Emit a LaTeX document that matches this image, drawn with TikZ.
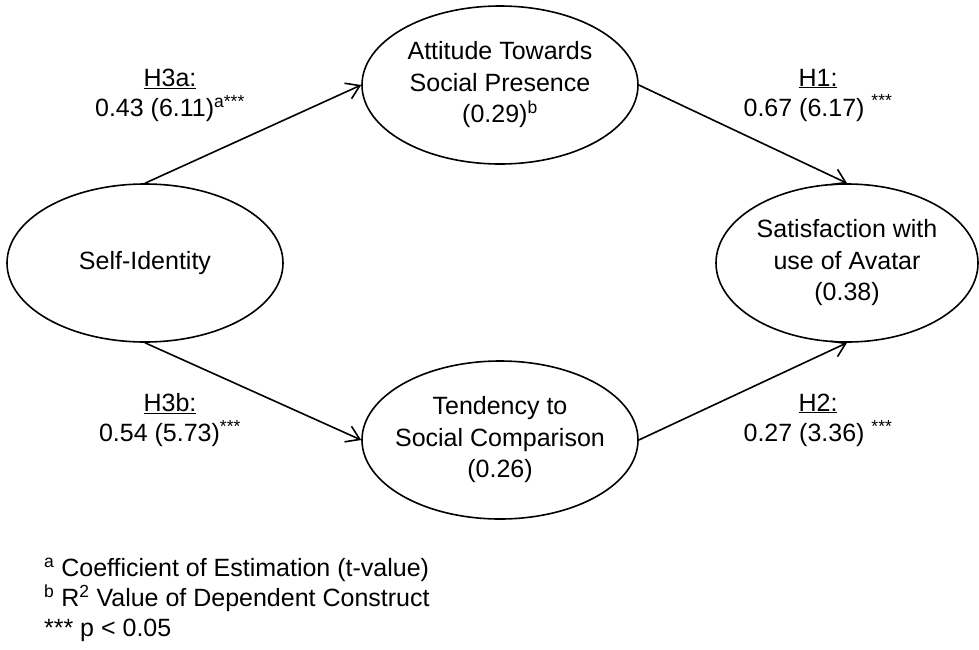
\documentclass[tikz,border=0pt]{standalone}
\usepackage{fontspec}
\setmainfont{Liberation Sans}
\usepackage{tikz}
\usetikzlibrary{arrows.meta, shapes.geometric}
\newcommand{\construct}[4]{%
  \node[ellipse, draw, minimum width=#3, minimum height=158pt, inner sep=0pt,
        label={[align=center, font=\fontsize{25}{31.5}\selectfont]center:{#4}}]
        (#1) at #2 {};
}
\newcommand{\hyp}[4]{%
  \node[align=center] (#1) at #2 {\underline{#3}\\#4};
}

\begin{document}
\begin{tikzpicture}[x=1pt, y=-1pt, line width=1.6pt,
      >={Straight Barb[length=13pt, width=17pt]},
      font=\fontsize{25}{30}\selectfont]
    \useasboundingbox (0,0) rectangle (979,649);
    \construct{self}{(145,263)}{276pt}{Self-Identity}
    \construct{att}{(500,85)}{276pt}{Attitude Towards\\Social Presence\\(0.29)\textsuperscript{b}}
    \construct{tend}{(500,440)}{276pt}{Tendency to\\Social Comparison\\(0.26)}
    \construct{sat}{(847,263)}{262pt}{Satisfaction with\\use of Avatar\\(0.38)}
    \draw[->] (self.north) -- (att.west);
    \draw[->] (att.east) -- (sat.north);
    \draw[->] (self.south) -- (tend.west);
    \draw[->] (tend.east) -- (sat.south);
    \hyp{h3a}{(170,95)}{H3a:}{0.43 (6.11)\textsuperscript{a***}}
    \hyp{h1}{(818,95)}{H1:}{0.67 (6.17) \textsuperscript{***}}
    \hyp{h3b}{(170,420)}{H3b:}{0.54 (5.73)\textsuperscript{***}}
    \hyp{h2}{(818,420)}{H2:}{0.27 (3.36) \textsuperscript{***}}
    \node[anchor=west, align=left] (legend) at (40,600)
      {\textsuperscript{a} Coefficient of Estimation (t-value)\\
       \textsuperscript{b} R\textsuperscript{2} Value of Dependent Construct\\
       *** p < 0.05};
  \end{tikzpicture}
\end{document}
